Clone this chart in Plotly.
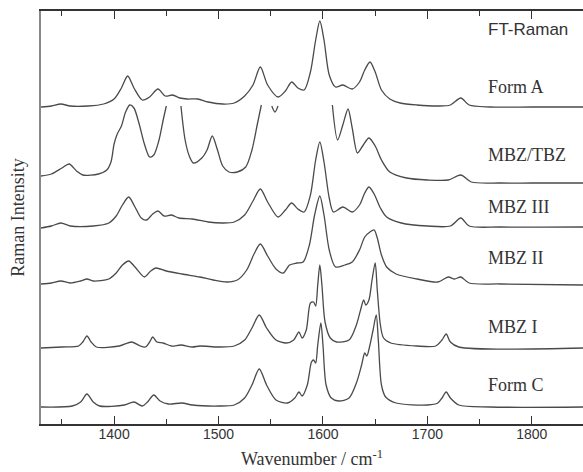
import plotly.graph_objects as go

# ---- data (wavenumber / cm^-1, stacked Raman intensity, arb. units) ----
formA_wn = [1330, 1340, 1349, 1358, 1375, 1390, 1400, 1407, 1413, 1419, 1427, 1434, 1442, 1449, 1456, 1463,
            1470, 1480, 1490, 1504, 1515, 1525, 1533, 1540, 1547, 1557, 1564, 1570, 1576, 1582, 1588, 1593,
            1597, 1601, 1606, 1612, 1619, 1628, 1635, 1640, 1645, 1650, 1656, 1664, 1674, 1690, 1710, 1722,
            1732, 1740, 1760, 1800, 1849]
formA_I = [317, 318, 320, 318, 318, 320, 325, 336, 348, 336, 324, 327, 335, 328, 329, 326,
           325, 325, 322, 320, 321, 328, 339, 357, 339, 327, 333, 342, 336, 334, 352, 384,
           403, 384, 349, 337, 339, 335, 342, 354, 362, 352, 334, 325, 321, 319, 318, 319,
           326, 319, 317, 317, 317]

mbztbz_wn = [1330, 1340, 1350, 1357, 1364, 1370, 1385, 1393, 1397, 1400, 1403, 1407, 1411, 1415, 1419, 1424,
             1429, 1434, 1438, 1443, 1447, 1450, 1457, 1464, 1468, 1472, 1476, 1484, 1489, 1494, 1499, 1504,
             1510, 1518, 1526, 1532, 1537, 1541, 1546, 1551, 1554, 1557, 1580, 1609, 1614, 1619, 1624, 1628,
             1633, 1638, 1644, 1650, 1656, 1664, 1680, 1700, 1720, 1732, 1742, 1770, 1800, 1849]
mbztbz_I = [248, 250, 256, 260, 253, 249, 250, 254, 262, 280, 290, 298, 312, 319, 316, 300,
            280, 267, 269, 284, 304, 318, None, 318, 284, 268, 261, 266, 274, 288, 274, 258,
            252, 252, 257, 274, 299, 319, None, 318, 312, 318, None, 319, 284, 299, 315, 296,
            271, 278, 286, 278, 264, 252, 246, 244, 244, 249, 242, 241, 241, 241]

mbz3_wn = [1330, 1340, 1349, 1358, 1380, 1395, 1402, 1408, 1414, 1420, 1426, 1431, 1437, 1442, 1448, 1455,
           1462, 1475, 1490, 1504, 1515, 1525, 1533, 1540, 1547, 1557, 1564, 1570, 1576, 1582, 1588, 1593,
           1597, 1601, 1606, 1610, 1619, 1628, 1635, 1640, 1644, 1649, 1655, 1661, 1675, 1700, 1722, 1732,
           1740, 1770, 1849]
mbz3_I = [196, 198, 201, 198, 198, 201, 208, 219, 227, 217, 206, 204, 210, 213, 208, 209,
          206, 205, 202, 201, 202, 209, 223, 235, 222, 207, 214, 221, 215, 212, 229, 264,
          282, 262, 226, 212, 217, 212, 219, 231, 237, 230, 216, 207, 201, 198, 198, 206,
          198, 197, 197]

mbz2_wn = [1330, 1340, 1349, 1358, 1368, 1374, 1380, 1395, 1402, 1408, 1414, 1420, 1429, 1435, 1440, 1450,
           1465, 1482, 1495, 1508, 1518, 1527, 1534, 1540, 1547, 1555, 1562, 1568, 1575, 1581, 1587, 1592,
           1597, 1601, 1606, 1612, 1621, 1628, 1635, 1640, 1645, 1649, 1652, 1656, 1661, 1670, 1690, 1710,
           1720, 1726, 1732, 1740, 1770, 1849]
mbz2_I = [140, 141, 143, 141, 143, 145, 143, 145, 151, 159, 163, 157, 147, 153, 156, 153,
          150, 147, 144, 142, 144, 154, 170, 180, 168, 155, 151, 159, 161, 162, 179, 209,
          228, 209, 174, 157, 159, 162, 174, 187, 192, 194, 186, 169, 157, 150, 145, 142,
          147, 145, 147, 141, 140, 139]

mbz1_wn = [1330, 1350, 1366, 1370, 1374, 1378, 1383, 1405, 1417, 1425, 1430, 1434, 1437, 1441, 1447, 1455,
           1464, 1475, 1482, 1500, 1515, 1525, 1532, 1539, 1546, 1555, 1565, 1572, 1577, 1580, 1584, 1588,
           1591, 1593, 1595, 1597, 1599, 1602, 1607, 1613, 1625, 1632, 1636, 1639, 1641, 1644, 1647, 1650,
           1652, 1655, 1658, 1665, 1690, 1708, 1714, 1718, 1722, 1730, 1849]
mbz1_I = [76, 77, 78, 82, 88, 82, 77, 78, 82, 78, 77, 82, 87, 82, 81, 78,
          79, 77, 78, 77, 78, 84, 96, 109, 96, 84, 81, 84, 92, 86, 94, 121,
          122, 118, 139, 159, 139, 102, 86, 82, 84, 99, 114, 124, 119, 124, 144, 161,
          134, 99, 86, 81, 78, 78, 84, 90, 82, 77, 76]

formC_wn = [1330, 1360, 1368, 1374, 1380, 1386, 1410, 1419, 1427, 1432, 1438, 1444, 1452, 1465, 1475, 1500,
            1515, 1525, 1532, 1539, 1546, 1555, 1566, 1573, 1577, 1580, 1585, 1589, 1591, 1593, 1595, 1598,
            1600, 1603, 1608, 1615, 1625, 1632, 1637, 1640, 1642, 1645, 1648, 1651, 1653, 1656, 1660, 1670,
            1700, 1710, 1714, 1718, 1722, 1730, 1760, 1849]
formC_I = [17, 18, 22, 30, 22, 18, 19, 22, 18, 22, 29, 23, 20, 21, 19, 18,
           19, 26, 39, 55, 39, 24, 21, 26, 32, 28, 39, 62, 64, 61, 79, 101,
           79, 39, 26, 23, 26, 41, 59, 71, 68, 79, 94, 109, 84, 39, 27, 21,
           19, 21, 26, 32, 26, 19, 17, 17]

spectra = [
    ("Form A", formA_wn, formA_I),
    ("MBZ/TBZ", mbztbz_wn, mbztbz_I),
    ("MBZ III", mbz3_wn, mbz3_I),
    ("MBZ II", mbz2_wn, mbz2_I),
    ("MBZ I", mbz1_wn, mbz1_I),
    ("Form C", formC_wn, formC_I),
]

label_names = ["FT-Raman", "Form A", "MBZ/TBZ", "MBZ III", "MBZ II", "MBZ I", "Form C"]
label_y = [395, 337, 269, 217, 166, 97, 39]
label_x = 1756

x_range = [1330, 1849]
y_range = [0, 413]

fig = go.Figure()
for name, wn, inten in spectra:
    fig.add_trace(go.Scatter(
        x=wn, y=inten, name=name, mode="lines",
        line=dict(color="#4a4a4a", width=1.3, shape="spline", smoothing=0.8),
        connectgaps=False, showlegend=False,
    ))

for i, (txt, yy) in enumerate(zip(label_names, label_y)):
    fam = "Liberation Sans, Arial, sans-serif" if i == 0 else "Liberation Serif, Times New Roman, serif"
    fig.add_annotation(x=label_x, y=yy, text=txt, showarrow=False, xanchor="left", yanchor="middle",
                       font=dict(family=fam, size=17 if i == 0 else 18, color="#333"))

fig.update_layout(
    width=583, height=472,
    margin=dict(l=41, r=0, t=11, b=48),
    plot_bgcolor="white", paper_bgcolor="white",
    xaxis=dict(
        range=x_range, showgrid=False, zeroline=False,
        showline=True, linecolor="#333", linewidth=1.5, mirror="ticks",
        ticks="inside", ticklen=8, tickwidth=1.2, tickcolor="#333", dtick=100,
        ticklabelstandoff=-4,
        minor=dict(ticks="inside", ticklen=5, tickwidth=1.2, tickcolor="#333", dtick=50),
        tickfont=dict(family="Liberation Sans, Arial, sans-serif", size=14, color="#333"),
        title=dict(text="Wavenumber / cm<sup>-1</sup>", standoff=12,
                   font=dict(family="Liberation Serif, Times New Roman, serif", size=18, color="#333")),
    ),
    yaxis=dict(
        range=y_range, showgrid=False, zeroline=False, showticklabels=False,
        showline=True, linecolor="#888", linewidth=2, ticks="",
        title=dict(text="Raman Intensity", standoff=10,
                   font=dict(family="Liberation Serif, Times New Roman, serif", size=18, color="#333")),
    ),
)

fig.write_html("out.html")
